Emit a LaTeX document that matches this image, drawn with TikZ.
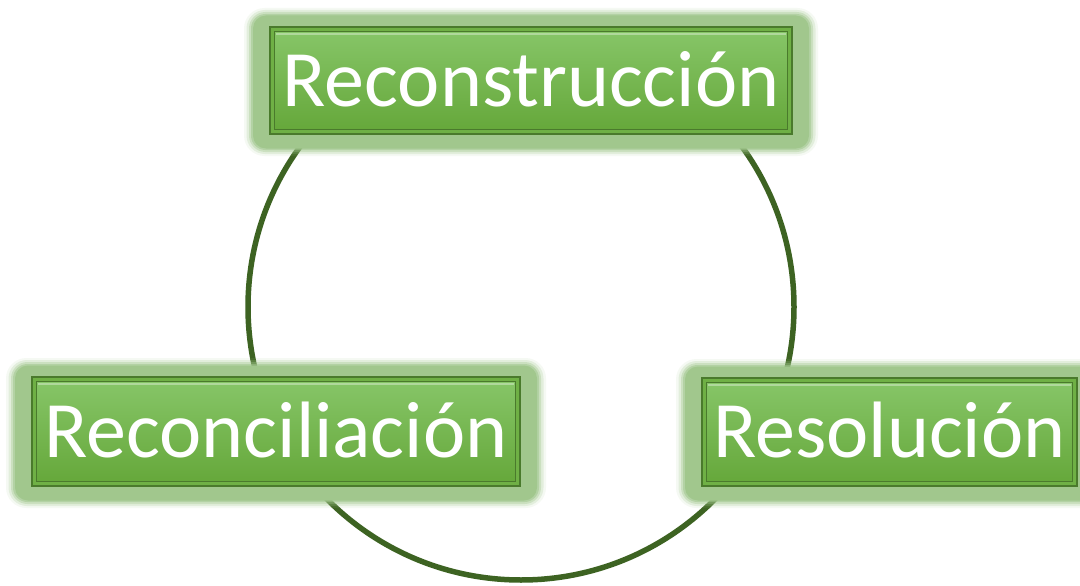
\documentclass[tikz,border=0pt]{standalone}
\usepackage{fontspec}
\setmainfont{Carlito}
\definecolor{ringgreen}{HTML}{3D6322}
\definecolor{glowgreen}{HTML}{A1C78D}
\definecolor{edgegreen}{HTML}{4A7A2C}
\definecolor{fillgreen}{HTML}{6FB045}
\definecolor{toplight}{HTML}{86C567}
\definecolor{botdark}{HTML}{66A83B}
\tikzset{
  x=1pt, y=-1pt,
  stagebox/.style={draw=edgegreen, line width=1.2pt, fill=fillgreen, inner sep=0pt},
  stagetext/.style={text=white, font=\fontsize{80}{80}\selectfont, inner sep=0pt,
    text height=51.5pt, text depth=0pt},
  ring/.style={draw=ringgreen, line width=5.5pt, circle, inner sep=0pt}
}
\newcommand{\glowbox}[4]{%
  % #1,#2 = centre; #3,#4 = width,height
  \foreach \dx/\dy/\op in {26/20.5/0.1,23.5/18.5/0.22,21/16.5/0.35,19/14.5/0.55,17/13/1}{
    \fill[glowgreen, opacity=\op, rounded corners=\dy pt]
      ($(#1,#2)+(-#3/2-\dx,-#4/2-\dy+1.5)$) rectangle ($(#1,#2)+(#3/2+\dx,#4/2+\dy+1.5)$);
  }%
}
\usetikzlibrary{calc}
\begin{document}
\begin{tikzpicture}
\useasboundingbox (0,0) rectangle (1080,586);
\fill[white] (0,0) rectangle (1080,586);
% cycle ring
\node[ring, minimum size=546pt] (cycle) at (521,307) {};
% glows
\glowbox{531}{80.5}{522}{107}
\glowbox{276}{431.5}{488}{109}
\glowbox{889.5}{432}{375}{108}
% boxes
\node[stagebox, minimum width=522pt, minimum height=107pt] (recon) at (531,80.5) {};
\node[stagebox, minimum width=488pt, minimum height=109pt] (recil) at (276,431.5) {};
\node[stagebox, minimum width=375pt, minimum height=108pt] (resol) at (889.5,432) {};
\foreach \n in {recon,recil,resol}{
  \shade[top color=toplight, bottom color=botdark]
    ($(\n.north west)+(5.5,5.5)$) rectangle ($(\n.south east)+(-5.5,-5.5)$);
  \draw[edgegreen, line width=1pt]
    ($(\n.north west)+(5.5,5.5)$) rectangle ($(\n.south east)+(-5.5,-5.5)$);
  \draw[white, opacity=0.35, line width=1.5pt]
    ($(\n.north west)+(7,7.5)$) -- ($(\n.north east)+(-7,7.5)$);
}
\node[stagetext] (t1) at (recon.center) {Reconstrucción};
\node[stagetext] (t2) at (recil.center) {Reconciliación};
\node[stagetext] (t3) at (resol.center) {Resolución};
\end{tikzpicture}
\end{document}
